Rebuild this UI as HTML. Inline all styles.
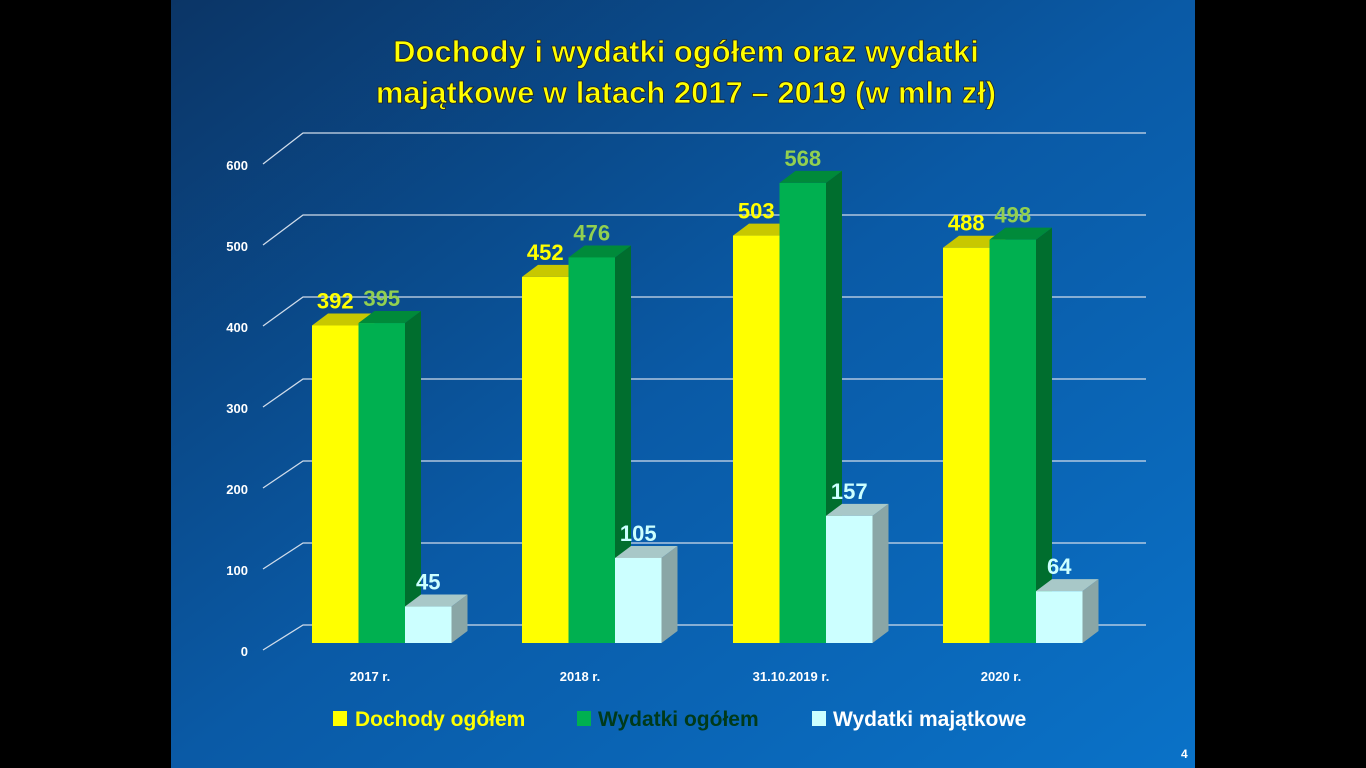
<!DOCTYPE html>
<html><head><meta charset="utf-8"><style>
body{margin:0;background:#000;width:1366px;height:768px;overflow:hidden}
svg{display:block}
text{font-family:"Liberation Sans",sans-serif;font-weight:bold}
</style></head><body>
<svg width="1366" height="768" viewBox="0 0 1366 768">
<defs>
<linearGradient id="bg" x1="0" y1="0" x2="1" y2="1">
<stop offset="0" stop-color="#0b3566"/>
<stop offset="0.5" stop-color="#0a5aa6"/>
<stop offset="1" stop-color="#0a72c8"/>
</linearGradient>
</defs>
<rect x="0" y="0" width="1366" height="768" fill="#000"/>
<rect x="171" y="0" width="1024" height="768" fill="url(#bg)"/>
<text x="686" y="62" text-anchor="middle" font-size="31" fill="#ffff00" stroke="#222" stroke-width="0.8">Dochody i wydatki ogółem oraz wydatki</text>
<text x="686" y="103" text-anchor="middle" font-size="31" fill="#ffff00" stroke="#222" stroke-width="0.8">majątkowe w latach 2017 – 2019 (w mln zł)</text>
<g stroke="#d0dcea" stroke-width="1.3" fill="none">
<path d="M263 650 L303 625 H1146"/>
<path d="M263 569 L303 543 H1146"/>
<path d="M263 488 L303 461 H1146"/>
<path d="M263 407 L303 379 H1146"/>
<path d="M263 326 L303 297 H1146"/>
<path d="M263 245 L303 215 H1146"/>
<path d="M263 164 L303 133 H1146"/>
</g>
<g font-size="13" fill="#fff" text-anchor="end">
<text x="248" y="656">0</text><text x="248" y="575">100</text><text x="248" y="494">200</text>
<text x="248" y="413">300</text><text x="248" y="332">400</text><text x="248" y="251">500</text><text x="248" y="170">600</text>
</g>
<g id="bars"></g>
<g font-size="13" fill="#fff" text-anchor="middle">
<text x="370" y="681">2017 r.</text><text x="580" y="681">2018 r.</text>
<text x="791" y="681">31.10.2019 r.</text><text x="1001" y="681">2020 r.</text>
</g>
<g font-size="21">
<rect x="333" y="711" width="14" height="15" fill="#ffff00"/>
<text x="355" y="726" fill="#ffff00">Dochody ogółem</text>
<rect x="577" y="711" width="14" height="15" fill="#00b050"/>
<text x="598" y="726" fill="#003a1a">Wydatki ogółem</text>
<rect x="812" y="711" width="14" height="15" fill="#ccffff"/>
<text x="833" y="726" fill="#fff">Wydatki majątkowe</text>
</g>
<text x="1181" y="758" font-size="12" fill="#fff" font-weight="normal">4</text>
</svg>
<script>
var data=[[392,395,45],[452,476,105],[503,568,157],[488,498,64]];
var xs=[312,522,733,943],w=46.5,dx=16,dy=12,base=643,k=0.81;
var front=["#ffff00","#00b050","#ccffff"],top_=["#c8c800","#008a3a","#a8c8c8"],side=["#b0b000","#006e2e","#8aa6a6"];
var lab=["#ffff00","#92d050","#ccffff"];
var s="";
data.forEach(function(d,g){
 for(var i=0;i<3;i++){
  var x=xs[g]+i*w,y=base-d[i]*k;
  s+='<polygon points="'+(x+w)+','+y+' '+(x+w+dx)+','+(y-dy)+' '+(x+w+dx)+','+(base-dy)+' '+(x+w)+','+base+'" fill="'+side[i]+'"/>';
  s+='<polygon points="'+x+','+y+' '+(x+dx)+','+(y-dy)+' '+(x+w+dx)+','+(y-dy)+' '+(x+w)+','+y+'" fill="'+top_[i]+'"/>';
  s+='<rect x="'+x+'" y="'+y+'" width="'+w+'" height="'+(base-y)+'" fill="'+front[i]+'"/>';
 }
 for(var i=0;i<3;i++){
  var x=xs[g]+i*w,y=base-d[i]*k;
  s+='<text x="'+(x+w/2)+'" y="'+(y-17)+'" text-anchor="middle" font-size="22" fill="'+lab[i]+'">'+d[i]+'</text>';
 }
});
document.getElementById("bars").innerHTML=s;
</script>
</body></html>
